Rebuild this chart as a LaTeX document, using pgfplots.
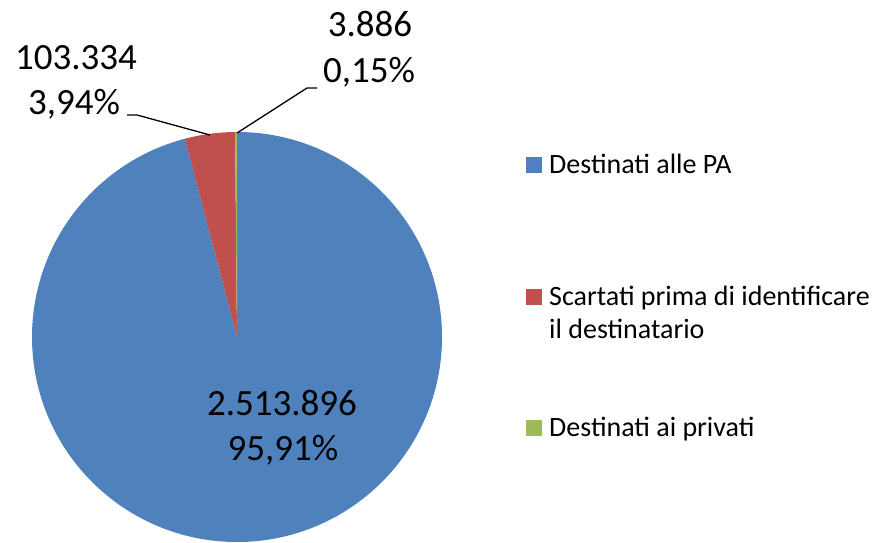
\documentclass[border=0pt]{standalone}
\usepackage{pgfplots}
\pgfplotsset{compat=1.18}
\usepackage{fontspec}
\setmainfont{Carlito}
\definecolor{pablue}{HTML}{4F81BD}
\definecolor{pared}{HTML}{C0504D}
\definecolor{pagreen}{HTML}{9BBB59}
% values (thousands)
\def\vA{2513.896}
\def\vB{103.334}
\def\vC{3.886}
\begin{document}
\begin{tikzpicture}[x=1pt,y=1pt]
\useasboundingbox (0,0) rectangle (875,542);
\pgfmathsetmacro\tot{\vA+\vB+\vC}
\pgfmathsetmacro\fA{\vA/\tot}
\pgfmathsetmacro\fB{\vB/\tot}
\pgfmathsetmacro\fC{\vC/\tot}
\pgfmathsetmacro\aA{90-360*\fA}
\pgfmathsetmacro\aB{\aA-360*\fB}
\pgfmathsetmacro\aC{\aB-360*\fC}
\begin{axis}[hide axis, scale only axis, width=410pt, height=410pt,
  xmin=-1, xmax=1, ymin=-1, ymax=1, clip=false,
  at={(237pt,205pt)}, anchor=center]
\fill[pablue] (axis cs:0,0) -- (axis cs:{cos(90)},{sin(90)}) arc[start angle=90, end angle=\aA, radius=205pt] -- cycle;
\fill[pared] (axis cs:0,0) -- (axis cs:{cos(\aA)},{sin(\aA)}) arc[start angle=\aA, end angle=\aB, radius=205pt] -- cycle;
\fill[pagreen] (axis cs:0,0) -- (axis cs:{cos(\aB)},{sin(\aB)}) arc[start angle=\aB, end angle=\aC, radius=205pt] -- cycle;
\end{axis}
% leader lines (pixel coords, y from top)
\draw[black, line width=1.3pt] (127,542-115) -- (137,542-115) -- (210,542-135);
\draw[black, line width=1.3pt] (317,542-88) -- (307,542-88) -- (237,542-133);
% data labels
\begin{scope}[every node/.style={font=\fontsize{37}{44}\selectfont, inner sep=0pt, anchor=base}]
\node at (282,542-415) {2.513.896};
\node at (283,542-460) {95,91\%};
\node at (76,542-70) {103.334};
\node at (74,542-115) {3,94\%};
\node at (370,542-37) {3.886};
\node at (369,542-83) {0,15\%};
\end{scope}
% legend
\begin{scope}[every node/.style={font=\fontsize{28}{33}\selectfont, inner sep=0pt, anchor=base west}]
\fill[pablue] (526,542-173) rectangle (542,542-157);
\node at (549,542-173) {Destinati alle PA};
\fill[pared] (526,542-305) rectangle (542,542-289);
\node at (549,542-305) {Scartati prima di identificare};
\node at (549,542-338) {il destinatario};
\fill[pagreen] (526,542-436) rectangle (542,542-420);
\node at (549,542-436) {Destinati ai privati};
\end{scope}
\end{tikzpicture}
\end{document}
